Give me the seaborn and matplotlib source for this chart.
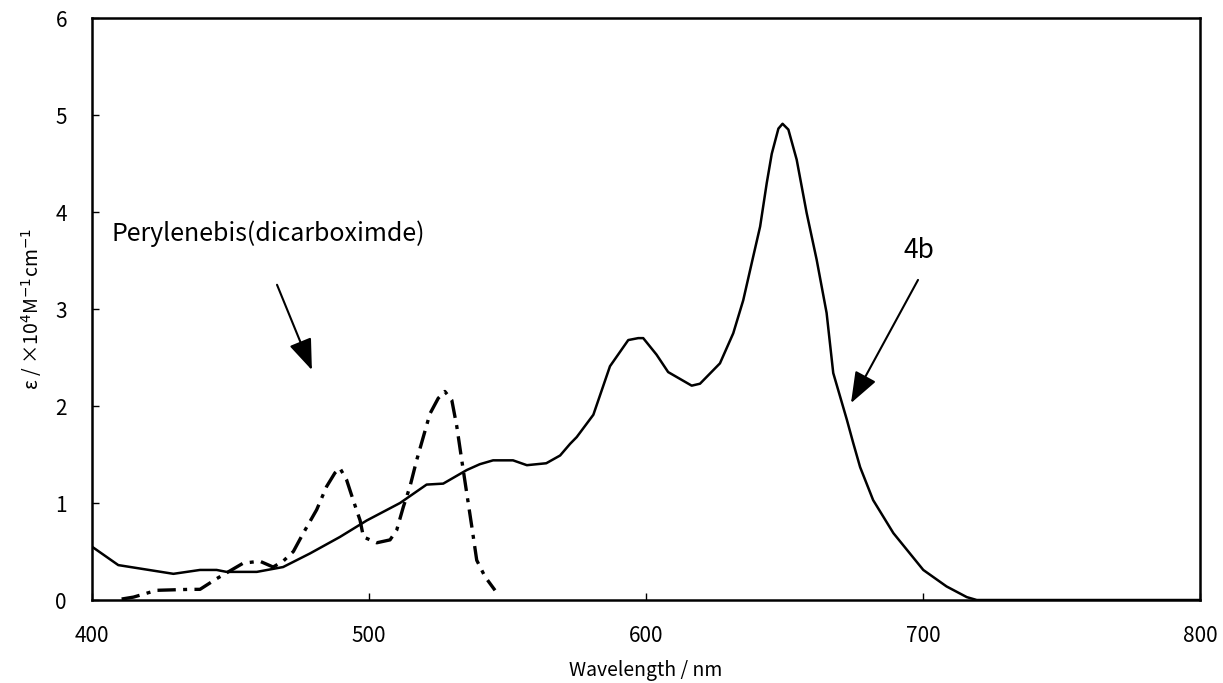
import pandas as pd
import matplotlib
matplotlib.use("Agg")
import matplotlib.pyplot as plt
import seaborn as sns

# 4b absorption spectrum (solid)
wl_4b = [400, 409.5, 429.4, 439, 445, 448.6, 459.5, 469, 478.7, 489.5, 499.2,
         511.2, 520.8, 526.8, 535.3, 540, 544.8, 552, 557, 564, 569, 572.6,
         575, 581, 587, 593.6, 597.2, 599, 603.8, 608, 616.5, 619.5, 626.7,
         631.5, 635.1, 638.7, 641.2, 643.6, 645.4, 647.8, 649.3, 651.4, 654.4,
         658, 661.6, 665.2, 667.6, 672.5, 674.8, 677.3, 682, 689.3, 700.1,
         708.5, 715.8, 719.4, 730, 800]
eps_4b = [0.55, 0.36, 0.27, 0.31, 0.31, 0.29, 0.29, 0.34, 0.48, 0.65, 0.82,
          1.00, 1.19, 1.20, 1.34, 1.40, 1.44, 1.44, 1.39, 1.41, 1.49, 1.61,
          1.68, 1.91, 2.41, 2.68, 2.70, 2.70, 2.53, 2.35, 2.21, 2.23, 2.44,
          2.75, 3.09, 3.54, 3.85, 4.30, 4.60, 4.86, 4.91, 4.85, 4.54,
          3.99, 3.51, 2.96, 2.34, 1.86, 1.62, 1.37, 1.03, 0.69, 0.31,
          0.14, 0.03, 0.0, 0.0, 0.0]

# Perylenebis(dicarboximide) spectrum (dash-dot)
wl_pdi = [410.7, 415, 423.3, 435.4, 439, 445, 454.6, 460.6, 465.4, 469, 472.7,
          476.3, 481.1, 484.7, 487.7, 489.5, 491.9, 494.3, 496.8, 498, 502.8,
          507.6, 510, 512.4, 514.8, 517.2, 519.6, 522, 525, 527.4, 529.9,
          531.7, 533.5, 535.3, 537.1, 538.9, 541.9, 545.5]
eps_pdi = [0.01, 0.03, 0.10, 0.11, 0.11, 0.22, 0.38, 0.40, 0.34, 0.40, 0.50,
           0.69, 0.93, 1.17, 1.31, 1.36, 1.24, 1.03, 0.82, 0.65, 0.59,
           0.62, 0.72, 0.96, 1.17, 1.44, 1.68, 1.92, 2.08, 2.15, 2.06,
           1.79, 1.44, 1.10, 0.76, 0.41, 0.24, 0.10]

x_ticks = [400, 500, 600, 700, 800]
y_ticks = [0, 1, 2, 3, 4, 5, 6]

sns.set_theme(style="white")
fonts = ["Noto Sans CJK JP", "DejaVu Sans"]
plt.rcParams["font.family"] = fonts
plt.rcParams["mathtext.fontset"] = "dejavusans"
plt.rcParams["text.color"] = "black"
plt.rcParams["axes.labelcolor"] = "black"

df_4b = pd.DataFrame({"wl": wl_4b, "eps": eps_4b})
df_pdi = pd.DataFrame({"wl": wl_pdi, "eps": eps_pdi})

fig = plt.figure(figsize=(12.23, 6.83), dpi=100)
ax = fig.add_axes([0.0752, 0.1215, 0.906, 0.8521])

sns.lineplot(data=df_4b, x="wl", y="eps", ax=ax, color="black", lw=1.8,
             sort=False)
sns.lineplot(data=df_pdi, x="wl", y="eps", ax=ax, color="black", lw=2.4,
             sort=False, linestyle=(0, (5.5, 2.2, 1.2, 2.2)))

ax.set_xlim(400, 800)
ax.set_ylim(0, 6)
ax.set_xticks(x_ticks)
ax.set_yticks(y_ticks)
ax.tick_params(axis="both", direction="in", length=5, width=1, colors="black",
               labelsize=15, bottom=True, left=True)
ax.tick_params(axis="x", pad=18)
ax.tick_params(axis="y", pad=18)
for s in ax.spines.values():
    s.set_color("black")
    s.set_linewidth(1.8)

ax.set_xlabel("Wavelength / nm", fontsize=14, labelpad=9)
ax.set_ylabel(r"ε / ×10$^4$M$^{-1}$cm$^{-1}$", fontsize=14, labelpad=8)

arrow = dict(arrowstyle="-|>,head_length=1.6,head_width=0.6", color="black",
             lw=1.5, shrinkA=0, shrinkB=0)
ax.annotate("", xy=(479.4, 2.37), xytext=(466.8, 3.25), arrowprops=arrow)
ax.annotate("", xy=(674, 2.03), xytext=(698.2, 3.30), arrowprops=arrow)
ax.text(407, 3.78, "Perylenebis(dicarboximde)", fontsize=18, ha="left",
        va="center", family=fonts)
ax.text(693, 3.6, "4b", fontsize=19, ha="left", va="center", family=fonts)

fig.savefig("out.png", dpi=100)
